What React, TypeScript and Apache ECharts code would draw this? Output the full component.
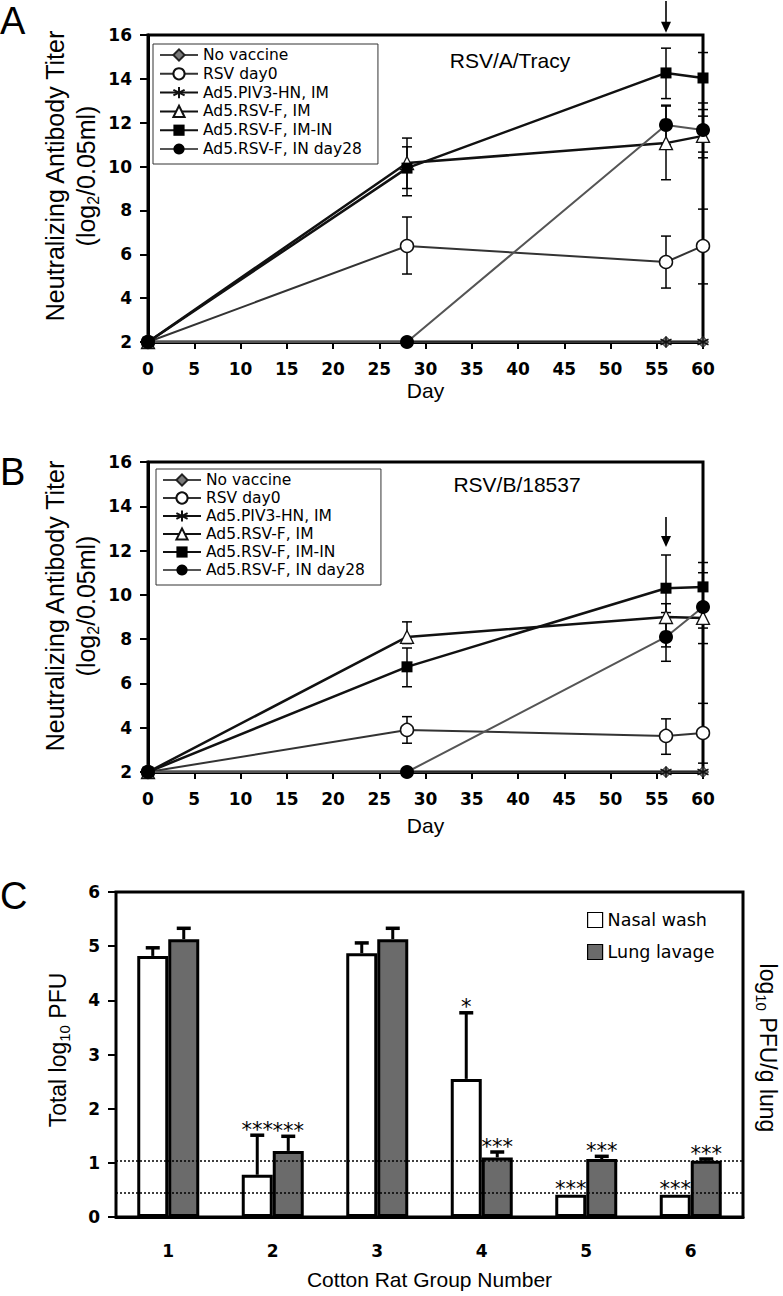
import React, { useEffect, useRef } from 'react';
import * as echarts from 'echarts';

// ---------- DATA ----------
const days = [0, 28, 56, 60];
const seriesNames = ['No vaccine', 'RSV day0', 'Ad5.PIV3-HN, IM', 'Ad5.RSV-F, IM', 'Ad5.RSV-F, IM-IN', 'Ad5.RSV-F, IN day28'];
const xTicks = [0, 60, 5]; // min, max, interval (days)

// Panel A (RSV/A/Tracy)
const aNoVaccine = [2, 2, 2, 2];
const aRsvDay0 = [2, 6.38, 5.65, 6.38];
const aPiv3 = [2, 2, 2, 2];
const aRsvFIM = [2, 10.16, 11.07, 11.4];
const aRsvFIMIN = [2, 9.93, 14.27, 14.04];
const aRsvFIN28 = [2, 2, 11.9, 11.67];
// error bars: [day, low, high]
const aErrRsvDay0 = [[28, 5.1, 7.7], [56, 4.46, 6.83], [60, 4.65, 8.06]];
const aErrRsvFIM = [[28, 9.0, 11.3], [56, 9.4, 12.8], [60, 10.4, 12.3]];
const aErrRsvFIMIN = [[28, 8.67, 10.9], [56, 13.1, 15.4], [60, 12.9, 15.2]];
const aErrRsvFIN28 = [[56, 11.0, 12.76], [60, 10.66, 12.6]];
const aArrow = [[56, 17.55, 16.1]];

// Panel B (RSV/B/18537)
const bNoVaccine = [2, 2, 2, 2];
const bRsvDay0 = [2, 3.9, 3.63, 3.76];
const bPiv3 = [2, 2, 2, 2];
const bRsvFIM = [2, 8.1, 9.0, 8.96];
const bRsvFIMIN = [2, 6.75, 10.3, 10.36];
const bRsvFIN28 = [2, 2, 8.1, 9.45];
const bErrRsvDay0 = [[28, 3.3, 4.5], [56, 2.8, 4.4], [60, 2.4, 5.1]];
const bErrRsvFIM = [[28, 7.8, 8.78], [56, 7.65, 9.6], [60, 8.5, 9.5]];
const bErrRsvFIMIN = [[28, 5.85, 7.6], [56, 8.8, 11.8], [60, 9.26, 11.46]];
const bErrRsvFIN28 = [[56, 7.0, 9.2], [60, 7.8, 11.0]];
const bArrow = [[56, 13.52, 12.16]];

// Panel C
const groups = ['1', '2', '3', '4', '5', '6'];
const nasalWash = [4.82, 0.78, 4.87, 2.55, 0.41, 0.41];
const nasalWashErrTop = [4.97, 1.51, 5.06, 3.77, 0.41, 0.41];
const nasalWashStars = ['', '***', '', '*', '***', '***'];
const lungLavage = [5.13, 1.22, 5.13, 1.1, 1.07, 1.04];
const lungLavageErrTop = [5.33, 1.49, 5.33, 1.2, 1.12, 1.07];
const lungLavageStars = ['', '***', '', '***', '***', '***'];
const detectionLimits = [1.04, 0.44];

// ---------- STYLE ----------
const SANS = 'Liberation Sans, Arial, sans-serif';
const VERD = 'DejaVu Sans, Verdana, sans-serif';
const ASTER = 'path://M5,0L5,10M0.67,2.5L9.33,7.5M0.67,7.5L9.33,2.5';

const seriesStyles: any[] = [
  { symbol: 'diamond', symbolSize: 11, itemStyle: { color: '#7a7a7a', borderColor: '#222', borderWidth: 1 }, lineStyle: { color: '#444', width: 2 } },
  { symbol: 'circle', symbolSize: 13, itemStyle: { color: '#fff', borderColor: '#111', borderWidth: 1.5 }, lineStyle: { color: '#333', width: 2 } },
  { symbol: ASTER, symbolSize: 11, itemStyle: { color: 'rgba(0,0,0,0)', borderColor: '#111', borderWidth: 1.4 }, lineStyle: { color: '#111', width: 1 } },
  { symbol: 'triangle', symbolSize: 13, itemStyle: { color: '#fff', borderColor: '#111', borderWidth: 1.3 }, lineStyle: { color: '#111', width: 2.5 } },
  { symbol: 'rect', symbolSize: 11, itemStyle: { color: '#000', borderColor: '#000', borderWidth: 0 }, lineStyle: { color: '#111', width: 2.5 } },
  { symbol: 'circle', symbolSize: 14, itemStyle: { color: '#000', borderColor: '#000', borderWidth: 0 }, lineStyle: { color: '#555', width: 2 } },
];

function lineSeries(vals: number[][], idx: number) {
  return vals.map((v, i) => ({
    type: 'line',
    name: seriesNames[i],
    xAxisIndex: idx,
    yAxisIndex: idx,
    data: days.map((d, k) => [d, v[k]]),
    z: 3 + i * 0.1,
    ...seriesStyles[i],
  }));
}

function errorRender(params: any, api: any) {
  const x = api.value(0);
  const p1 = api.coord([x, api.value(1)]);
  const p2 = api.coord([x, api.value(2)]);
  const w = 5;
  const s = { stroke: '#000', lineWidth: 1.5 };
  return {
    type: 'group',
    children: [
      { type: 'line', shape: { x1: p1[0], y1: p1[1], x2: p2[0], y2: p2[1] }, style: s },
      { type: 'line', shape: { x1: p1[0] - w, y1: p1[1], x2: p1[0] + w, y2: p1[1] }, style: s },
      { type: 'line', shape: { x1: p2[0] - w, y1: p2[1], x2: p2[0] + w, y2: p2[1] }, style: s },
    ],
  };
}

function arrowRender(params: any, api: any) {
  const x = api.value(0);
  const p1 = api.coord([x, api.value(1)]);
  const p2 = api.coord([x, api.value(2)]);
  return {
    type: 'group',
    children: [
      { type: 'line', shape: { x1: p1[0], y1: p1[1], x2: p2[0], y2: p2[1] - 8 }, style: { stroke: '#000', lineWidth: 1.6 } },
      { type: 'polygon', shape: { points: [[p2[0] - 5, p2[1] - 11], [p2[0] + 5, p2[1] - 11], [p2[0], p2[1]]] }, style: { fill: '#000' } },
    ],
  };
}

function barErrSeries(vals: number[], tops: number[], stars: string[], offset: number) {
  return {
    type: 'custom',
    xAxisIndex: 2,
    yAxisIndex: 2,
    z: 5,
    data: vals.map((v, i) => [i, v, tops[i]]),
    encode: { x: 0, y: [1, 2] },
    renderItem: (params: any, api: any) => {
      const i = api.value(0);
      const p1 = api.coord([i, api.value(1)]);
      const p2 = api.coord([i, api.value(2)]);
      const x = p1[0] + offset;
      const children: any[] = [];
      const s = { stroke: '#000', lineWidth: 3 };
      if (p1[1] - p2[1] > 1) {
        children.push({ type: 'line', shape: { x1: x, y1: p1[1], x2: x, y2: p2[1] }, style: s });
        children.push({ type: 'line', shape: { x1: x - 7, y1: p2[1], x2: x + 7, y2: p2[1] }, style: { stroke: '#000', lineWidth: 3.5 } });
      }
      const label = stars[params.dataIndex];
      if (label) {
        children.push({
          type: 'text',
          style: { text: label, x, y: p2[1] + 5, align: 'center', verticalAlign: 'bottom', fontSize: 21, fontFamily: VERD, fill: '#000' },
        });
      }
      return { type: 'group', children };
    },
  };
}

const axisLine = { onZero: false, lineStyle: { color: '#000', width: 3 } };
const tickLabel = { color: '#000', fontFamily: VERD, fontWeight: 'bold' as const, fontSize: 17 };
const tick = { show: true, length: 8, lineStyle: { color: '#000', width: 2 } };

function dayAxis(idx: number, gap: number) {
  return {
    type: 'value', gridIndex: idx, min: xTicks[0], max: xTicks[1], interval: xTicks[2],
    axisLine, axisTick: { ...tick, length: 7 }, axisLabel: { ...tickLabel, margin: 18 }, splitLine: { show: false },
    name: 'Day', nameLocation: 'middle', nameGap: gap,
    nameTextStyle: { fontFamily: SANS, fontSize: 21, color: '#000', verticalAlign: 'top' },
  };
}
function titerAxis(idx: number) {
  return {
    type: 'value', gridIndex: idx, min: 2, max: 16, interval: 2,
    axisLine, axisTick: tick, axisLabel: { ...tickLabel, margin: 16 }, splitLine: { show: false },
  };
}

function vText(x: number, y: number, text: string, rot: number, size = 25) {
  const r = {
    n: { fontFamily: SANS, fontSize: size, lineHeight: size + 5, fill: '#000' },
    s: { fontFamily: SANS, fontSize: Math.round(size * 0.64), lineHeight: Math.round(size * 0.64), verticalAlign: 'bottom', fill: '#000' },
  };
  return { type: 'text', x, y, rotation: rot, style: { text, rich: r, align: 'center', verticalAlign: 'middle', fill: '#000' } };
}

function legendFor(left: number, top: number, gap: number) {
  return {
    orient: 'vertical', left, top, data: seriesNames,
    borderColor: '#333', borderWidth: 1, borderRadius: 0, padding: [3, 16, 7, 6],
    itemWidth: 38, itemHeight: 14, itemGap: gap, selectedMode: false,
    textStyle: { fontFamily: VERD, fontSize: 15.5, color: '#000', lineHeight: 15 },
  };
}

export default function App() {
  const ref = useRef<HTMLDivElement>(null);
  useEffect(() => {
    const chart = echarts.init(ref.current!, undefined, { renderer: 'svg' });
    const option: any = {
      animation: false,
      backgroundColor: '#fff',
      grid: [
        { left: 148, top: 35, width: 555, height: 307, show: true, borderColor: '#000', borderWidth: 3, backgroundColor: 'transparent' },
        { left: 148, top: 462, width: 555, height: 310, show: true, borderColor: '#000', borderWidth: 3, backgroundColor: 'transparent' },
        { left: 116, top: 892, width: 627, height: 325, show: true, borderColor: '#000', borderWidth: 3, backgroundColor: 'transparent' },
      ],
      legend: [
        legendFor(153, 44, 2.8),
        legendFor(156, 469, 2),
        {
          orient: 'vertical', left: 582, top: 906, data: ['Nasal wash', 'Lung lavage'], selectedMode: false,
          itemWidth: 15, itemHeight: 15, itemGap: 14, icon: 'rect',
          itemStyle: { borderWidth: 1.2, borderColor: '#000' },
          textStyle: { fontFamily: VERD, fontSize: 17.5, color: '#000' },
        },
      ],
      xAxis: [
        dayAxis(0, 38),
        dayAxis(1, 43),
        {
          type: 'category', gridIndex: 2, data: groups,
          axisLine, axisTick: { show: false }, axisLabel: { ...tickLabel, margin: 25 },
          name: 'Cotton Rat Group Number', nameLocation: 'middle', nameGap: 52,
          nameTextStyle: { fontFamily: SANS, fontSize: 21, color: '#000', verticalAlign: 'top' },
        },
      ],
      yAxis: [
        titerAxis(0),
        titerAxis(1),
        {
          type: 'value', gridIndex: 2, min: 0, max: 6, interval: 1,
          axisLine, axisTick: tick, axisLabel: { ...tickLabel, margin: 16 }, splitLine: { show: false },
        },
      ],
      graphic: [
        { type: 'text', left: 0, top: 2, style: { text: 'A', fontFamily: SANS, fontSize: 38, fill: '#000' } },
        { type: 'text', left: 0, top: 453, style: { text: 'B', fontFamily: SANS, fontSize: 38, fill: '#000' } },
        { type: 'text', left: 0, top: 877, style: { text: 'C', fontFamily: SANS, fontSize: 38, fill: '#000' } },
        { type: 'text', x: 510, y: 60, style: { text: 'RSV/A/Tracy', fontFamily: SANS, fontSize: 21, fill: '#000', align: 'center', verticalAlign: 'middle' } },
        { type: 'text', x: 517, y: 484, style: { text: 'RSV/B/18537', fontFamily: SANS, fontSize: 21, fill: '#000', align: 'center', verticalAlign: 'middle' } },
        vText(55, 176, '{n|Neutralizing Antibody Titer}', Math.PI / 2),
        vText(86, 176, '{n|(log}{s|2}{n|/0.05ml)}', Math.PI / 2),
        vText(55, 606, '{n|Neutralizing Antibody Titer}', Math.PI / 2),
        vText(86, 606, '{n|(log}{s|2}{n|/0.05ml)}', Math.PI / 2),
        vText(58, 1050, '{n|Total log}{s|10}{n| PFU}', Math.PI / 2, 23),
        vText(768, 1048, '{n|log}{s|10}{n| PFU/g lung}', -Math.PI / 2, 23),
      ],
      series: [
        ...lineSeries([aNoVaccine, aRsvDay0, aPiv3, aRsvFIM, aRsvFIMIN, aRsvFIN28], 0),
        ...lineSeries([bNoVaccine, bRsvDay0, bPiv3, bRsvFIM, bRsvFIMIN, bRsvFIN28], 1),
        {
          type: 'custom', xAxisIndex: 0, yAxisIndex: 0, z: 2, renderItem: errorRender, encode: { x: 0, y: [1, 2] },
          data: [...aErrRsvDay0, ...aErrRsvFIM, ...aErrRsvFIMIN, ...aErrRsvFIN28],
        },
        {
          type: 'custom', xAxisIndex: 1, yAxisIndex: 1, z: 2, renderItem: errorRender, encode: { x: 0, y: [1, 2] },
          data: [...bErrRsvDay0, ...bErrRsvFIM, ...bErrRsvFIMIN, ...bErrRsvFIN28],
        },
        { type: 'custom', xAxisIndex: 0, yAxisIndex: 0, z: 6, clip: false, renderItem: arrowRender, encode: { x: 0, y: [1, 2] }, data: aArrow },
        { type: 'custom', xAxisIndex: 1, yAxisIndex: 1, z: 6, clip: false, renderItem: arrowRender, encode: { x: 0, y: [1, 2] }, data: bArrow },
        {
          type: 'bar', name: 'Nasal wash', xAxisIndex: 2, yAxisIndex: 2, data: nasalWash,
          barWidth: 31, barGap: '0%', z: 3,
          itemStyle: { color: '#fff', borderColor: '#000', borderWidth: 3 },
        },
        {
          type: 'bar', name: 'Lung lavage', xAxisIndex: 2, yAxisIndex: 2, data: lungLavage,
          barWidth: 31, barGap: '0%', z: 3,
          itemStyle: { color: '#6b6b6b', borderColor: '#000', borderWidth: 3 },
          markLine: {
            silent: true, symbol: ['none', 'none'], label: { show: false }, z: 4,
            lineStyle: { color: '#000', type: [2, 2], width: 1.6 },
            data: detectionLimits.map((v) => ({ yAxis: v })),
          },
        },
        barErrSeries(nasalWash, nasalWashErrTop, nasalWashStars, -15.5),
        barErrSeries(lungLavage, lungLavageErrTop, lungLavageStars, 15.5),
      ],
    };
    chart.setOption(option);
    return () => chart.dispose();
  }, []);
  return <div ref={ref} style={{ position: 'fixed', left: 0, top: 0, width: 783, height: 1296 }} />;
}
